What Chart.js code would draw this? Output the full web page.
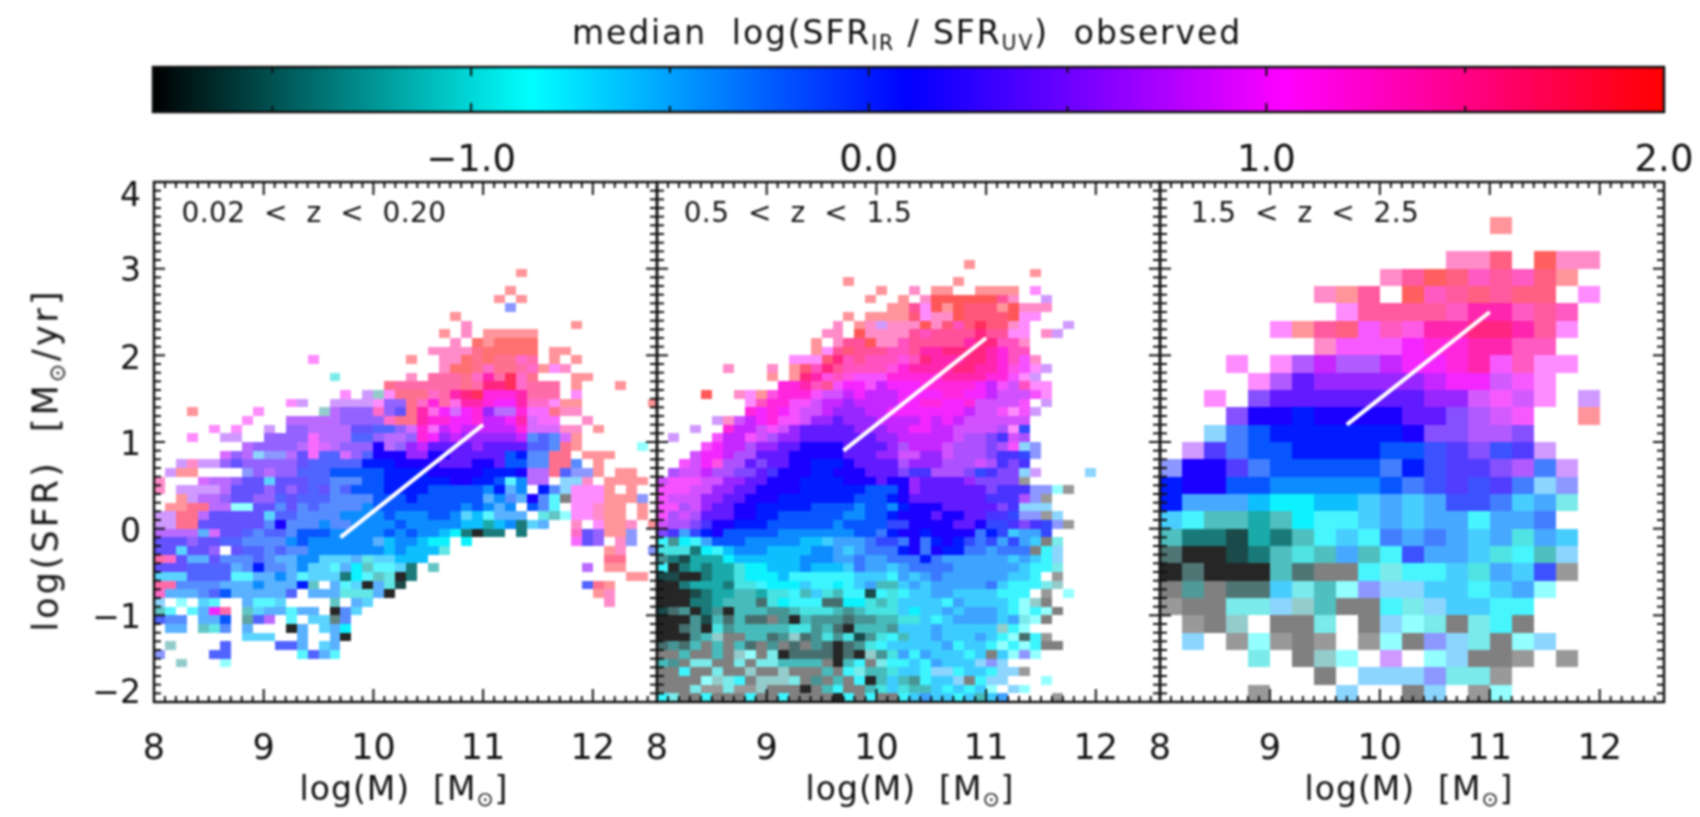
<!DOCTYPE html>
<html>
<head>
<meta charset="utf-8">
<script src="https://cdn.jsdelivr.net/npm/chart.js@4"></script>
<style>
	html, body { margin: 0; background: #fff; }
	#page { position: relative; width: 1700px; height: 817px; overflow: hidden; filter: blur(0.8px); font-family: "DejaVu Sans", sans-serif; color: #111; }
	canvas { position: absolute; left: 0; top: 0; }
	.txt { position: absolute; white-space: pre; transform: translate(-50%, -50%); line-height: 1; }
	.txt sub { font-size: 62%; vertical-align: -0.3em; line-height: 0; }
	.rot { transform: translate(-50%, -50%) rotate(-90deg); }
</style>
</head>
<body>
<div id="page">
	<canvas id="barChart" width="1700" height="817"></canvas>
	<canvas id="lowChart" width="1700" height="817"></canvas>
	<canvas id="midChart" width="1700" height="817"></canvas>
	<canvas id="highChart" width="1700" height="817"></canvas>
	<div class="txt" style="left:907px;top:32px;font-size:33px;letter-spacing:1.9px">median  log(SFR<sub>IR</sub> / SFR<sub>UV</sub>)  observed</div>
	<div class="txt" style="left:314px;top:213px;font-size:28px;letter-spacing:0.4px">0.02  &lt;  z  &lt;  0.20</div>
	<div class="txt" style="left:798px;top:213px;font-size:28px;letter-spacing:0.4px">0.5  &lt;  z  &lt;  1.5</div>
	<div class="txt" style="left:1305px;top:213px;font-size:28px;letter-spacing:0.4px">1.5  &lt;  z  &lt;  2.5</div>
	<div class="txt" style="left:404px;top:788px;font-size:33px;letter-spacing:1px">log(M)  [M<sub>⊙</sub>]</div>
	<div class="txt" style="left:910px;top:788px;font-size:33px;letter-spacing:1px">log(M)  [M<sub>⊙</sub>]</div>
	<div class="txt" style="left:1409px;top:788px;font-size:33px;letter-spacing:1px">log(M)  [M<sub>⊙</sub>]</div>
	<div class="txt rot" style="left:46px;top:460px;font-size:35px;letter-spacing:3px">log(SFR)  [M<sub>⊙</sub>/yr]</div>
</div>
<script>
// axis ticks and labels
const massTicks = [8, 9, 10, 11, 12];
const sfrTicks = [4, 3, 2, 1, 0, -1, -2];
const sfrLabelNudge = [15, 4, 5, 4, 5, 4, -8];
const barTicks = [-1, 0, 1, 2];

// colour scale of the bar
const colorValues = [-1.8, -0.85, 0.1, 1.05, 2.0];
const colorStops = [[0, 0, 0], [0, 255, 255], [0, 0, 255], [255, 0, 255], [255, 0, 0]];

// white fit lines, log(M) and log(SFR) of the ends
const fitMass = [9.7, 11];
const lowFitSfr = [-0.1, 1.2];
const midFitSfr = [0.9, 2.2];
const highFitSfr = [1.2, 2.5];

// cell codes: A-T are levels -1.8..2.0 in steps of 0.2, a-t the same with few objects (lighter),
// 0-9 very few objects (palest), dot is an empty cell
const levelWeights = [0.85, 0.9, 0.9, 0.9, 0.9, 0.95, 0.95, 0.95, 0.97, 1, 1, 0.9, 0.85, 0.85, 0.85, 0.85, 0.85, 0.85, 0.82, 0.82];
const paleValues = [-1.8, -1.3, -1.0, -0.85, -0.5, 0.0, 0.6, 1.05, 1.5, 1.95];
const paleWeights = [0.4, 0.42, 0.52, 0.42, 0.45, 0.45, 0.4, 0.45, 0.45, 0.42];
const lowFade = 0.66;
const midFade = 0.78;
const highFade = 0.74;

// 0.02 < z < 0.20, 0.1 dex cells, first row is log(SFR) 2.9-3.0
const lowTop = 3.0;
const lowRows = [
	"..... ..... ..... ..... ..... ..... ...9.",
	"",
	"..... ..... ..... ..... ..... ..... ..9",
	"..... ..... ..... ..... ..... ..... .9.9",
	"..... ..... ..... ..... ..... ..... ..5",
	"..... ..... ..... ..... ..... ..9..",
	"..... ..... ..... ..... ..... ...8. ..... ...9.",
	"..... ..... ..... ..... ..... .9.8. 99999",
	"..... ..... ..... ..... ..... ..8.t 9tttt",
	"..... ..... ..... ..... ..... 8888s ttttt .99",
	"..... ..... ....7 ..... ...9. .88ts tssqr .9.9",
	"..... ..... ..... ..... ..... .8tts qssrq 978",
	"..... ..... ..... .2... ...8. rrrsq QrSqs ...99",
	"..... ..... ..... ..... .srrr rrrsr RRSqr rr.9. ..9",
	"..... ..... ..... ..7.6 17sss qrQRS PPPQr rr.7",
	"..... ..... ..76. .6666 7llsq PrpQQ POOQq q799. ..... 9",
	"...9. ....7 ..... 1mlll qlksQ pOnOP MmmPo os88",
	"..... ...7. ..mmm mmlll lqssQ PPOOP NNOQn oo..8",
	"..... 7.7.. 6.llm mmmkk jjlnP oNONN NNNPn nn88. 9",
	"...7. .66.. llllo mmmjj lmmlP OMNMM MMMNi jin9",
	"..... ...ml lllmo nmlll KmlMN LLLLM LLLLj jis9. ....3",
	"..... .nlm4 55mko jjnlj KKKMM KKLLL LLIJi iss.9 99",
	"..686 6lkll lllkj jjjjJ JJKKK KLLLK KLIIi issi. 9",
	".699. ...5l mlljj jIIII IJJJJ KKKKK JJJKm msj55 9.99",
	"8...n mmlkk gkkkj jiiiI IJJJJ JJKKJ JIfHm m.448 .9999",
	"8.666 6mkkk lklkj kijII IJJJJ IIIII HJhH. Ji477 79.9.",
	"..96m mlkkl ljkjj jiiii IIIJI IIIII hHihK ifa77 79995",
	".99ss mm33k kikij iiiiH IIIII IIIHI HhH.I if.77 899.9",
	"66ssm kkkkk gjjii iiHHH HIHHH IIHgG fhhh. ed377 899.9",
	"66ssk kkkkk iKiii HiiHH HHIHH HHHGG DGHCg h..8. 7998. 9",
	"mmmmh nkkji jjiII IHHHH HIHIH HGFCA CC.C. ...qk l995",
	"kkklk kjjii iiHIH HHHHH hGHHG FF.F. ..... ...ok l.85",
	"kkgkk l.kjj ijiiH HHHHH HGHGG Ge... ..... ..... .98.. 5",
	"rqkhh kiiij ihhHH ggghe ggGGG ..... ..... ..... .ss",
	"kkkjj jjhiJ iihHg gfhFd ffgC. d.... ..... ....m .99",
	"gggjj jjffh hHhfg ggCFf deAC. ..... ..... ..... ...99",
	"rriii ihhhH hhhJd .hfgA heB.. ..... ..... ....j s9",
	"qhhhi jIhhh hhj.h hheee hA... ..... ..... ..... 98",
	"4.3.g f..hf fg... .d.hg ..... ..... ..... ..... .8",
	"df.fh Or.dg hhfhh .Aig",
	"jii.h hI.cj m.f.g gbi",
	".hh.d ei.h. ..Ah. ghF",
	"..... ...gg g..h. .hA",
	".1... .j... .jjh. gh",
	"5.... jj... ...fj hf",
	"..1.. .3"
];

// 0.5 < z < 1.5, 0.1 dex cells, first row is log(SFR) 3.0-3.1
const midTop = 3.1;
const midRows = [
	"..... ..... ..... ..... ..... ...9.",
	"..... ..... ..... ..... ..... ..... ....9",
	"..... ..... ..... ..9.. ..... ..9..",
	"..... ..... ..... ..... 9..8. 99..9 999.7",
	"..... ..... ..... ....9 ..9.8 ttttt tr8.. 6",
	"..... ..... ..... ..... .99r7 t9tss s9t88 8",
	"..... ..... ..... ..9.9 999s7 88tss sst77",
	"..... ..... ..... .8.98 6888t 8sqsS ss87. ..6",
	"..... ..... ..... 88.t8 888rq rrrrR rr77. 86",
	"..... ..... ....9 .8rrt 88qrr rrrQR Rqq8",
	"..... ..... ....9 7rsrr rqqrQ QRRRR QPqq",
	"..... ..... ..777 sRqrq qqpqR QQQRR QPqo8",
	"..... .8... 8.9sq Rrqqq qpPQQ QQRRQ QPpo7 6",
	"..... ..... 9.9RQ pqpoo oPPPP PQQQQ PPo76",
	"..... ..... .PPQq roOOo NOOOP PPPPO Nonq7 7",
	"....t ..879 pPPPo nnNON NNOOO OPPOO Nnnno 7",
	"..... ...7q PPoon NNMNN NNOOP POOPn nnno. 6",
	"..... ...PO POonn NMMMN NOOOO OOONn no7o6",
	"..... 68nNO PoonM MLMMM NNNNO NONnn nnnn",
	"...6. .PNNn onMLL LLLMM MNNOO NNnnn nm7j",
	".6... oNNon mMMLL LLLLL MMNNN NNnmm lknm",
	"....o ONNmM MLLKK KKLLL LMmNN Nnmmm lmo45",
	"...nO ONmmL LLKKK KKLLL MMnnM Mnmmm lkkj5",
	"..onO pmmLl LLKKJ JJKLL LLmMM Mmmmn mklk",
	".mnnN mmllL kKKKJ JKKKL LLlkk mmmlj kll46 ....4",
	"nooon nMMLL KKKJJ JJKKK LKKML LLLMl lll0",
	"ooonn MMLLK KKKJJ JJJJI IIKML LLLLL lkkk5 530",
	"onnnM MLLKK KJJJJ JJJII IJKLL LLLLL kkkm5 0",
	"oomnM LLKKJ JJJJI IIIHI IHJKK KLLLL Llk44 4",
	"omnmL LLKKJ JIIII IIHHI IJKKK LKKLL kkj55 04",
	"nmmlk KKJJJ IIIII IHIII IjjKK KKLLK jjklk j50",
	"lkhjJ KIIII IHHHH HHHII iJKKJ KKKKi Jjghh j",
	"fcFfh IIIHH HHHGG ghhhi jjiKi JKJji jhjhg a2",
	"eeeCF fGHHH GGGGH Hhghi iiJKi KJJii hiiia f4",
	"cCBDD DFGGG GGGHH Hhhih hiiiJ ihhhh hhghg f4",
	"fACDC DDeFF GGGHG GGgih hghii iihhh hhhgf f2",
	"BBAAC DDeFF FGfff fffgg gfhgh ihhhh hhggf .0",
	"AACDD DCeef FFFgf fFfgh ddghg hhhhh igfff 21",
	"AAABC DDddD eefdg edffB fefgg hhggg gfff. 0.3",
	"AAACC Ddddb eFfff bbFFe deggg gfhgg ggf31 a",
	"BbcAC cAddd ccdee edcde eegFg ghghh hgf3f 3a",
	"AAAcB dbdbb acAdc ccbcc ddeeg fghhh hgh23 a",
	"AAbcA ecddd ddeec dbAdd dcggg hgggg g1f3",
	"AAAcd 1aadd bc1bc eceBc efdgg hgggh gf3bf 0",
	"bcbda dadba cabac bAbce fgggg ghfgg f3f3f aa",
	"aadaa da13a 2Abbb bAbA1 cehfh gggfg ag353",
	"dca22 aa2a2 2dddd aAdfa 2ffgf hggg4 54",
	"aafaa 2aa1a a1aaa daf2d deggf 44fgg f440",
	"aaaa3 12fa1 112ac adafA dgdcf gg4af 44... 3",
	"aaa20 02001 aaaAa dfaad egedd gfgfg 3.43",
	"f2aaf aaafa afaaa aAfaf aafgh ggfgd gh... .0"
];

// 1.5 < z < 2.5, 0.2 dex cells, first row is log(SFR) 3.4-3.6
const highTop = 3.6;
const highRows = [
	"..... ..... ..... 9",
	"",
	"..... ..... ...88 s.t88",
	"..... ..... 8rtsq rqs9",
	"..... ..89r .tqrs rss.7",
	"..... ...7r rrrqQ Qqrq",
	"..... 79rso qpQQR RQr7",
	"..... ..8oo oOPPQ Qqq",
	"...7. 7mNmm NOOPQ oq77",
	"....7 mLMMM MMNOO no7",
	"..7.l LLLLL LLMMn on7.6",
	"...lK KJKKK KLLlm no..9",
	"..4iI JJJJJ JKllm ml",
	".6kiI IJJJJ IIjkl jk6",
	"5KKki IIIII iJjkk lmi6",
	"JKKII HHHHH Iijkj ki45",
	"JhhhG FFGGg hghjj igh2",
	"gfddD dFffg hghhf hhi",
	"dCCBD Cdfgf ihihg hehg",
	"bAABC dedhd fjhhg efd4",
	"AbAAA dbaaf 2ffge hgj0",
	"acabb g2d35 44ggf gh3",
	"0aa22 41daa f24gg ff",
	".0a1. aa2.a 432a2 fa",
	".4.03 0a0.0 3a542 a34",
	"....2 .a13. 6.34a a0.0",
	"..... ..a.4 44522 0",
	"....0 ...4. .a4.0 3"
];

const massRange = [8, 12.585];
const sfrRange = [-2, 4];

function mixColor(value, weight) {
	let i = 0;
	while (i < colorValues.length - 2 && value > colorValues[i + 1]) i++;
	const t = Math.min(1, Math.max(0, (value - colorValues[i]) / (colorValues[i + 1] - colorValues[i])));
	const rgb = colorStops[i].map((c, n) => c + (colorStops[i + 1][n] - c) * t);
	return 'rgb(' + rgb.map(c => Math.round(255 + (c - 255) * weight)).join(',') + ')';
}

function cellColor(code, fade) {
	if (code >= '0' && code <= '9') return mixColor(paleValues[+code], paleWeights[+code]);
	if (code === 'a') return mixColor(-1.8, 0.5);
	if (code >= 'a') {
		const n = code.charCodeAt(0) - 97;
		return mixColor(-1.8 + 0.2 * n, fade * levelWeights[n] + 0.02);
	}
	const n = code.charCodeAt(0) - 65;
	return mixColor(-1.8 + 0.2 * n, levelWeights[n]);
}

function rowsToCells(rows, top, size) {
	const cells = [];
	rows.forEach((row, r) => {
		row.replace(/\s/g, '').split('').forEach((code, c) => {
			if (code !== '.') cells.push({ x: 8 + c * size, y: top - r * size, code: code });
		});
	});
	return cells;
}

// heat map cells, drawn under the axes
const cellPlugin = {
	id: 'cells',
	beforeDatasetsDraw(chart) {
		const ds = chart.data.datasets[1];
		if (!ds) return;
		const ctx = chart.ctx, xs = chart.scales.x, ys = chart.scales.y;
		ctx.save();
		ctx.beginPath();
		ctx.rect(chart.chartArea.left, chart.chartArea.top, chart.chartArea.width, chart.chartArea.height);
		ctx.clip();
		ds.data.forEach(cell => {
			const x0 = Math.round(xs.getPixelForValue(cell.x));
			const x1 = Math.round(xs.getPixelForValue(cell.x + ds.cellSize));
			const y0 = Math.round(ys.getPixelForValue(cell.y));
			const y1 = Math.round(ys.getPixelForValue(cell.y - ds.cellSize));
			ctx.fillStyle = cellColor(cell.code, ds.fade);
			ctx.fillRect(x0, y0, x1 - x0, y1 - y0);
		});
		ctx.restore();
	}
};

function inwardTick(ctx, x, y, dx, dy) {
	ctx.beginPath();
	ctx.moveTo(x, y);
	ctx.lineTo(x + dx, y + dy);
	ctx.stroke();
}

// frame with inward ticks on all four sides
const framePlugin = {
	id: 'frame',
	afterDraw(chart, args, opts) {
		const ctx = chart.ctx, a = chart.chartArea, xs = chart.scales.x, ys = chart.scales.y;
		ctx.save();
		ctx.strokeStyle = '#111';
		ctx.lineWidth = 2;
		for (let i = 0; i * 0.1 <= massRange[1] - 8; i++) {
			const px = xs.getPixelForValue(8 + i * 0.1);
			const major = i % 10 === 0;
			inwardTick(ctx, px, a.bottom, 0, major ? -13 : -6);
			inwardTick(ctx, px, a.top, 0, major ? 13 : 6);
		}
		for (let i = 0; i <= 60; i++) {
			const py = ys.getPixelForValue(-2 + i * 0.1);
			const major = i % 10 === 0;
			inwardTick(ctx, a.left, py, major ? 11 : 7, 0);
			inwardTick(ctx, a.right, py, major ? -11 : -7, 0);
		}
		ctx.lineWidth = 2.5;
		ctx.strokeRect(a.left, a.top, a.width, a.height);
		if (opts.showSfr) {
			ctx.fillStyle = '#111';
			ctx.font = '33px "DejaVu Sans"';
			ctx.textAlign = 'right';
			ctx.textBaseline = 'middle';
			sfrTicks.forEach((v, i) => {
				ctx.fillText(v < 0 ? '\u2212' + (-v) : String(v), 141, ys.getPixelForValue(v) + sfrLabelNudge[i]);
			});
		}
		ctx.restore();
	}
};

function makePanel(canvasId, left, right, rows, top, size, fitSfr, fade, showSfr) {
	new Chart(document.getElementById(canvasId), {
		type: 'scatter',
		data: {
			datasets: [
				{
					data: fitMass.map((m, i) => ({ x: m, y: fitSfr[i] })),
					showLine: true,
					borderColor: '#fff',
					borderWidth: 4,
					pointRadius: 0
				},
				{ data: rowsToCells(rows, top, size), cellSize: size, fade: fade, pointRadius: 0, showLine: false }
			]
		},
		options: {
			responsive: false,
			animation: false,
			events: [],
			layout: { padding: { left: left, right: 1700 - right, top: 182, bottom: 817 - 702 - 70 } },
			plugins: { legend: { display: false }, tooltip: { enabled: false }, frame: { showSfr: showSfr } },
			scales: {
				x: {
					type: 'linear',
					min: massRange[0],
					max: massRange[1],
					grid: { display: false },
					border: { display: false },
					afterFit: s => { s.height = 70; s.paddingLeft = 0; s.paddingRight = 0; },
					afterBuildTicks: s => { s.ticks = massTicks.map(v => ({ value: v })); },
					ticks: {
						color: '#111',
						padding: 19,
						maxRotation: 0,
						autoSkip: false,
						font: { family: '"DejaVu Sans"', size: 35 },
						callback: v => String(v)
					}
				},
				y: {
					type: 'linear',
					min: sfrRange[0],
					max: sfrRange[1],
					grid: { display: false },
					border: { display: false },
					ticks: { display: false },
					afterFit: s => { s.width = 0; }
				}
			}
		},
		plugins: [cellPlugin, framePlugin]
	});
}

makePanel('lowChart', 154, 657, lowRows, lowTop, 0.1, lowFitSfr, lowFade, true);
makePanel('midChart', 657, 1160, midRows, midTop, 0.1, midFitSfr, midFade, false);
makePanel('highChart', 1160, 1664, highRows, highTop, 0.2, highFitSfr, highFade, false);

// colour bar on top
const barPlugin = {
	id: 'bar',
	beforeDatasetsDraw(chart) {
		const ctx = chart.ctx, a = chart.chartArea, xs = chart.scales.x;
		const grad = ctx.createLinearGradient(a.left, 0, a.right, 0);
		colorValues.forEach((v, i) => {
			grad.addColorStop((xs.getPixelForValue(v) - a.left) / a.width, 'rgb(' + colorStops[i].join(',') + ')');
		});
		ctx.fillStyle = grad;
		ctx.fillRect(a.left, a.top, a.width, a.height);
	},
	afterDraw(chart) {
		const ctx = chart.ctx, a = chart.chartArea, xs = chart.scales.x;
		ctx.save();
		ctx.strokeStyle = '#111';
		ctx.lineWidth = 2;
		for (let i = 1; i <= 7; i++) {
			const v = -1.5 + (i - 1) * 0.5;
			const len = v === Math.round(v) ? 9 : 6;
			inwardTick(ctx, xs.getPixelForValue(v), a.top, 0, len);
			inwardTick(ctx, xs.getPixelForValue(v), a.bottom, 0, -len);
		}
		ctx.lineWidth = 2.5;
		ctx.strokeRect(a.left, a.top, a.width, a.height);
		ctx.restore();
	}
};

new Chart(document.getElementById('barChart'), {
	type: 'scatter',
	data: { datasets: [{ data: barTicks.map(v => ({ x: v, y: 0.5 })), pointRadius: 0 }] },
	options: {
		responsive: false,
		animation: false,
		events: [],
		layout: { padding: { left: 153, right: 1700 - 1664, top: 67, bottom: 817 - 112 - 66 } },
		plugins: { legend: { display: false }, tooltip: { enabled: false } },
		scales: {
			x: {
				type: 'linear',
				min: colorValues[0],
				max: colorValues[4],
				grid: { display: false },
				border: { display: false },
				afterFit: s => { s.height = 66; s.paddingLeft = 0; s.paddingRight = 0; },
				afterBuildTicks: s => { s.ticks = barTicks.map(v => ({ value: v })); },
				ticks: {
					color: '#111',
					padding: 19,
					maxRotation: 0,
					autoSkip: false,
					font: { family: '"DejaVu Sans"', size: 37 },
					callback: v => (v < 0 ? '\u2212' + (-v).toFixed(1) : v.toFixed(1))
				}
			},
			y: {
				type: 'linear',
				min: 0,
				max: 1,
				grid: { display: false },
				border: { display: false },
				ticks: { display: false },
				afterFit: s => { s.width = 0; }
			}
		}
	},
	plugins: [barPlugin]
});
</script>
</body>
</html>
